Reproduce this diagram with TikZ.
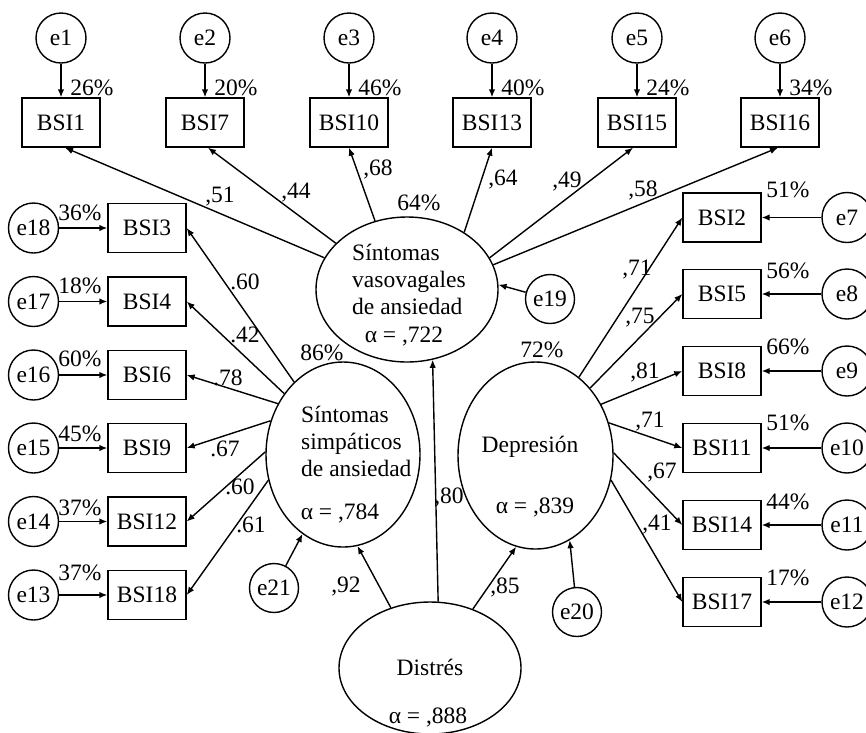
\documentclass[tikz,border=0pt]{standalone}
\usepackage{fontspec}
\setmainfont{Liberation Serif}
\usetikzlibrary{shapes.geometric,arrows.meta}
\begin{document}
\begin{tikzpicture}[x=1pt,y=-1pt,
  every node/.style={font=\fontsize{23.5}{27}\selectfont, inner sep=0pt},
  obs/.style={draw, rectangle, line width=1.4pt, minimum width=78pt, minimum height=49pt},
  err/.style={draw, circle, line width=1.4pt, minimum size=50pt},
  lat/.style={draw, ellipse, line width=1.4pt},
  arr/.style={line width=1.4pt, -{Latex[length=8pt,width=6.5pt]}}]
\useasboundingbox (0,0) rectangle (866,732);
\clip (0,0) rectangle (866,732);
% latent variables
\node[lat, minimum width=182pt, minimum height=145pt] (vaso) at (407,289.5) {};
\node[lat, minimum width=154pt, minimum height=185pt] (simp) at (343,454.5) {};
\node[lat, minimum width=155pt, minimum height=187pt] (dep) at (535.5,455.5) {};
\node[lat, minimum width=182pt, minimum height=132pt] (dist) at (430,668) {};
\node[anchor=west, align=left] (vasot) at (352,279) {Síntomas\\vasovagales\\de ansiedad};
\node (vasoa) at (404,337) {α = ,722};
\node[anchor=west, align=left] (simpt) at (301,441) {Síntomas\\simpáticos\\de ansiedad};
\node (simpa) at (340,513) {α = ,784};
\node (dept) at (530,447) {Depresión};
\node (depa) at (535,507) {α = ,839};
\node (distt) at (430,667) {Distrés};
\node (dista) at (428,717) {α = ,888};
\node (vasop) at (419,203) {64\%};
\node (simpp) at (322,353) {86\%};
\node (depp) at (542,350) {72\%};
% top row
\foreach \n/\e/\x/\p in {1/1/61/26,7/2/205/20,10/3/349/46,13/4/492/40,15/5/637/24,16/6/780/34}{
  \node[obs] (bsi\n) at (\x,122.5) {BSI\n};
  \node[err] (e\e) at (\x,38) {e\e};
  \draw[arr] (e\e) -- (bsi\n.north);
  \node (p\n) at (\x+31,88) {\p\%};
}
% left column
\foreach \n/\e/\y/\p/\dy in {3/18/228/36/15,4/17/301.5/18/16,6/16/375/60/16,9/15/448/45/14,12/14/521.5/37/14,18/13/595/37/22}{
  \node[obs] (bsi\n) at (147,\y) {BSI\n};
  \node[err] (e\e) at (33.5,\y) {e\e};
  \draw[arr] (e\e) -- (bsi\n.west);
  \node (p\n) at (80,\y-\dy) {\p\%};
}
% right column
\foreach \n/\e/\y/\p/\dy in {2/7/217.5/51/28,5/8/294/56/23,8/9/371/66/24,11/10/448/51/25,14/11/525/44/23,17/12/602/17/24}{
  \node[obs] (bsi\n) at (722,\y) {BSI\n};
  \node[err] (e\e) at (847,\y) {e\e};
  \draw[arr] (e\e) -- (bsi\n.east);
  \node (p\n) at (788,\y-\dy) {\p\%};
}
% disturbance terms
\node[err, minimum size=49pt] (e19) at (550,299) {e19};
\node[err, minimum size=49pt] (e21) at (274,588) {e21};
\node[err, minimum size=49pt] (e20) at (577,612) {e20};
\draw[arr] (e19) -- (vaso.3);
\draw[arr] (e21) -- (simp.243);
\draw[arr] (e20) -- (dep.292);
% structural paths
\draw[arr] (dist.83) -- (vaso.290);
\draw[arr] (dist.123) -- (simp.279);
\draw[arr] (dist.54) -- (dep.258);
\node (l80) at (449,497) {,80};
\node (l92) at (346,587) {,92};
\node (l85) at (505,587) {,85};
% vasovagal loadings
\draw[arr] (vaso.159) -- ([xshift=4pt]bsi1.south);
\draw[arr] (vaso.147) -- ([xshift=3pt]bsi7.south);
\draw[arr] (vaso.115) -- (bsi10.south);
\draw[arr] (vaso.45) -- (bsi13.south);
\draw[arr] (vaso.21) -- ([xshift=-4pt]bsi15.south);
\draw[arr] (vaso.16) -- ([xshift=-2pt]bsi16.south);
\node (l51) at (220,197) {,51};
\node (l44) at (296,193) {,44};
\node (l68) at (378,169) {,68};
\node (l64) at (503,180) {,64};
\node (l49) at (567,182) {,49};
\node (l58) at (643,190) {,58};
% sympathetic loadings
\draw[arr] (simp.124) -- (bsi3.east);
\draw[arr] (simp.134) -- (bsi4.east);
\draw[arr] (simp.142) -- (bsi6.east);
\draw[arr] (simp.155) -- (bsi9.east);
\draw[arr] (simp.178) -- (bsi12.east);
\draw[arr] (simp.199) -- (bsi18.east);
\node (l60a) at (245,282) {.60};
\node (l42) at (245,335) {.42};
\node (l78) at (228,378) {.78};
\node (l67a) at (225,449) {.67};
\node (l60b) at (240,487) {.60};
\node (l61) at (251,525) {.61};
% depression loadings
\draw[arr] (dep.61) -- (bsi2.west);
\draw[arr] (dep.51) -- (bsi5.west);
\draw[arr] (dep.38) -- (bsi8.west);
\draw[arr] (dep.24) -- (bsi11.west);
\draw[arr] (dep.2) -- (bsi14.west);
\draw[arr] (dep.-18) -- (bsi17.west);
\node (l71a) at (637,270) {,71};
\node (l75) at (640,318) {,75};
\node (l81) at (645,372) {,81};
\node (l71b) at (650,422) {,71};
\node (l67b) at (662,473) {,67};
\node (l41) at (657,525) {,41};
\end{tikzpicture}
\end{document}
